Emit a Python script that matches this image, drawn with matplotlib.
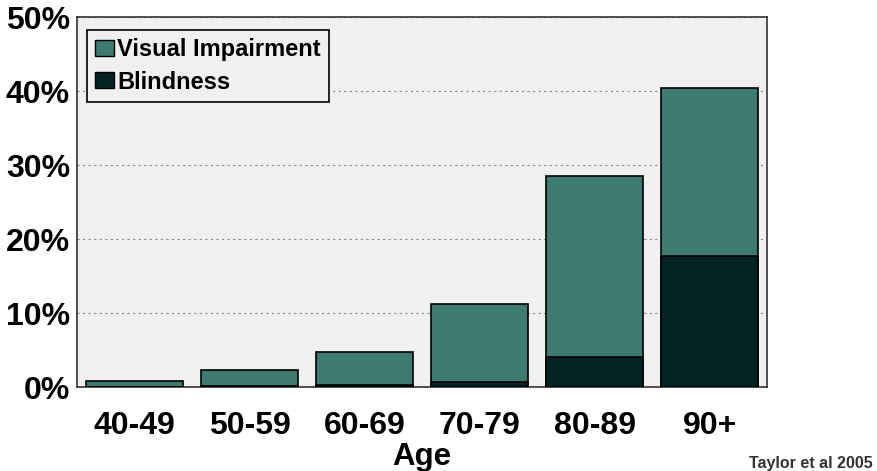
import matplotlib.pyplot as plt
import numpy as np
from matplotlib.patches import Patch

plt.rcParams['font.family'] = ['Liberation Sans', 'DejaVu Sans']
plt.rcParams['font.weight'] = 'bold'

ages = ['40-49', '50-59', '60-69', '70-79', '80-89', '90+']
total = [0.8, 2.3, 4.7, 11.2, 28.5, 40.4]   # visual impairment (incl. blindness)
blind = [0.05, 0.1, 0.3, 0.7, 4.1, 17.7]
yticks = [0, 10, 20, 30, 40, 50]

c_vi = '#3d7b71'
c_bl = '#032224'

fig = plt.figure(figsize=(8.77, 4.71), dpi=100)
ax = fig.add_axes([0.0878, 0.1783, 0.7868, 0.7856])
ax.set_facecolor('#f0f0f0')

x = np.arange(len(ages))
ax.bar(x, total, width=0.85, color=c_vi, edgecolor='black', linewidth=1.2, zorder=3)
ax.bar(x, blind, width=0.85, color=c_bl, edgecolor='black', linewidth=1.2, zorder=4)

ax.set_xlim(-0.5, 5.5)
ax.set_ylim(0, 50)
ax.set_yticks(yticks)
ax.set_yticklabels([str(v) + '%' for v in yticks], fontsize=23, fontweight='bold')
ax.set_xticks(x)
ax.set_xticklabels(ages, fontsize=23, fontweight='bold')
ax.tick_params(length=0)
ax.tick_params(axis='y', pad=5)
ax.tick_params(axis='x', pad=17)
ax.yaxis.grid(True, linestyle=(0, (2, 3)), color='#888888', linewidth=0.8, zorder=1)
for s in ax.spines.values():
    s.set_color('#333333')
    s.set_linewidth(1.2)

ax.set_xlabel('Age', fontsize=22.5, fontweight='bold', labelpad=1)

handles = [Patch(facecolor=c_vi, edgecolor='black'), Patch(facecolor=c_bl, edgecolor='black')]
leg = ax.legend(handles, ['Visual Impairment', 'Blindness'], loc='upper left',
                bbox_to_anchor=(0.014, 0.965), prop={'weight': 'bold', 'size': 17},
                fancybox=False, framealpha=1, facecolor='#f0f0f0', edgecolor='black',
                handlelength=0.8, handleheight=0.65, handletextpad=0.15, borderpad=0.35,
                borderaxespad=0, labelspacing=0.4)
leg.get_frame().set_linewidth(1.2)
leg.set_zorder(5)

fig.text(0.995, 0.0, 'Taylor et al 2005', fontsize=11.5, fontweight='bold',
         color='#333333', ha='right', va='bottom')

fig.savefig('out.png', dpi=100)
